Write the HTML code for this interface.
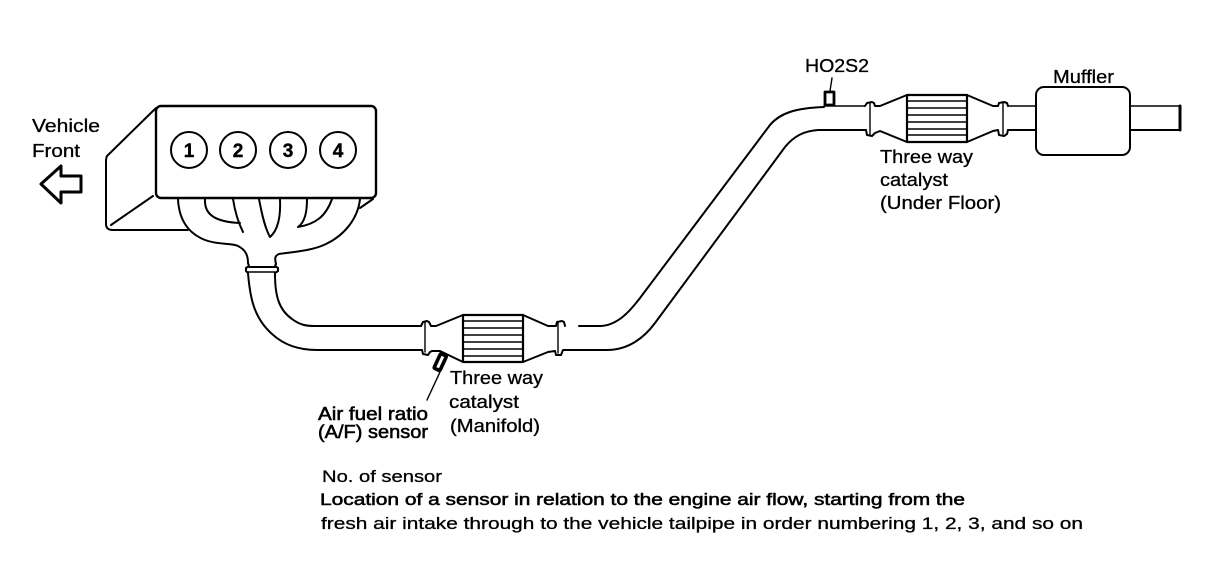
<!DOCTYPE html>
<html>
<head>
<meta charset="utf-8">
<style>
html,body{margin:0;padding:0;background:#fff;width:1216px;height:582px;overflow:hidden}
svg{display:block}
text{font-family:"Liberation Sans",sans-serif;font-size:18px;fill:#000;stroke:#000;stroke-width:.3px}
.b{stroke-width:.55px}
.n{font-size:19px;font-weight:bold;text-anchor:middle;stroke-width:.4px}
.l{fill:none;stroke:#000;stroke-width:2;stroke-linejoin:round;stroke-linecap:round}
.t{stroke-width:1.4}
.h{stroke-width:3}
</style>
</head>
<body>
<svg width="1216" height="582" viewBox="0 0 1216 582" xmlns="http://www.w3.org/2000/svg">
<rect width="1216" height="582" fill="#fff"/>

<!-- engine -->
<path class="l" d="M156 108 L107 156 Q106 158 106 162 L106 224 Q106 230 113 230 L188 230"/>
<path class="l" d="M111 225 L153 196"/>
<rect class="l" x="156" y="106" width="220" height="92" rx="5" ry="5" style="stroke-width:2.4"/>
<circle class="l" cx="189" cy="150" r="18"/>
<circle class="l" cx="238" cy="150" r="18"/>
<circle class="l" cx="288" cy="150" r="18"/>
<circle class="l" cx="338" cy="150" r="18"/>
<text class="n" x="189" y="157">1</text>
<text class="n" x="238" y="157">2</text>
<text class="n" x="288" y="157">3</text>
<text class="n" x="338" y="157">4</text>

<!-- front arrow -->
<path class="l h" d="M41 184 L61 166 L61 176 L81 176 L81 192 L61 192 L61 203 Z"/>

<!-- manifold -->
<path class="l" d="M178 199 C179 222 190 234 205 240 C218 245 232 243 238 246 C246 250 248 256 248 263"/>
<path class="l" d="M360 199 C358 218 345 235 326 244 C312 251 292 252 279 254 C274 256 275 260 276 264"/>
<path class="l" d="M360 208 L373 199"/>
<path class="l" d="M205 199 C204 215 216 222 240 223"/>
<path class="l" d="M233 199 C235 212 238 222 243 232"/>
<path class="l" d="M259 199 C262 215 265 228 270 237 C277 231 281 220 280 199"/>
<path class="l" d="M307 199 C307 212 305 222 298 227 C316 224 326 216 332 199"/>

<!-- first flange -->
<path class="l" d="M248 263 L249 266 L246 268 L246 271 L248 273 M276 264 L275 266 L278 268 L278 271 L275 273"/>
<path class="l" d="M249 267 L275 267"/>
<path class="l t" d="M248 272 L275 272"/>

<!-- front pipe -->
<path class="l" d="M248 273 C250 298 254 318 272 334 C285 346 300 350 317 350 L422 350"/>
<path class="l" d="M275 274 C275 296 279 310 292 319 C300 325 306 326 315 326 L421 326"/>

<!-- manifold catalyst -->
<path class="l" d="M421 326 L423 322 L427 321 L429 322 L431 326 L436 326 L463 315"/>
<path class="l t" d="M425 322 L425 352"/>
<path class="l" d="M422 350 L423 354 L428 355 L430 352 L432 351 L440 351 L463 362"/>
<rect class="l" x="463" y="315" width="60" height="47" style="stroke-width:2.2"/>
<path class="l t" d="M463 321H523M463 328H523M463 335H523M463 342H523M463 349H523M463 356H523"/>
<path class="l" d="M523 315 L548 326 L556 326 L557 322 L562 321 L564 322 L565 326"/>
<path class="l t" d="M558 322 L558 353"/>
<path class="l" d="M523 362 L548 352 L555 351 L556 355 L561 355 L563 350 L607 350"/>

<!-- diagonal pipe -->
<path class="l" d="M579 326 L601 326 C618 325 630 311 640 298 L770 125 C780 113 796 108 824 107"/>
<path class="l" d="M607 350 C628 350 644 338 655 323 L785 147 C794 136 804 131 818 130 L866 130"/>

<!-- underfloor catalyst -->
<path class="l t" d="M824 106 L865 106"/>
<path class="l" d="M865 106 L867 103 L872 102 L874 103 L875 106 L880 106 L907 95"/>
<path class="l t" d="M870 103 L870 135"/>
<path class="l" d="M866 130 L867 135 L872 136 L875 133 L880 131 L907 142"/>
<rect class="l" x="907" y="95" width="60" height="47" style="stroke-width:2.2"/>
<path class="l t" d="M907 101H967M907 108H967M907 115H967M907 122H967M907 129H967M907 135H967"/>
<path class="l" d="M967 95 L993 106 L998 106 L999 103 L1004 102 L1007 103 L1008 106"/>
<path class="l t" d="M1003 103 L1003 134"/>
<path class="l" d="M967 142 L993 131 L998 130 L999 135 L1004 136 L1007 134 L1008 130"/>
<path class="l t" d="M1008 106 L1036 106"/>
<path class="l" d="M1008 130 L1036 130"/>

<!-- muffler -->
<rect class="l" x="1036" y="87" width="94" height="68" rx="8" ry="8"/>
<path class="l t" d="M1130 106 L1180 106"/>
<path class="l" d="M1130 130 L1180 130"/>
<path class="l" d="M1180 106 L1180 130" style="stroke-width:3"/>

<!-- sensors -->
<rect class="l" x="825" y="92" width="9" height="13" style="stroke-width:2.8"/>
<path class="l t" d="M832 78 L830 91"/>
<rect class="l" x="437" y="354" width="6.5" height="16" rx="1" transform="rotate(25 440 362)" style="stroke-width:3.6"/>
<path class="l t" d="M440 372 L427 400"/>

<!-- labels -->
<text x="32" y="132" textLength="68" lengthAdjust="spacingAndGlyphs">Vehicle</text>
<text x="32" y="157" textLength="48" lengthAdjust="spacingAndGlyphs">Front</text>
<text class="b" x="318" y="420" textLength="110" lengthAdjust="spacingAndGlyphs">Air fuel ratio</text>
<text class="b" x="318" y="438" textLength="110" lengthAdjust="spacingAndGlyphs">(A/F) sensor</text>
<text x="450" y="384" textLength="93" lengthAdjust="spacingAndGlyphs">Three way</text>
<text x="449" y="408" textLength="70" lengthAdjust="spacingAndGlyphs">catalyst</text>
<text x="450" y="432" textLength="90" lengthAdjust="spacingAndGlyphs">(Manifold)</text>
<text x="805" y="72" textLength="64" lengthAdjust="spacingAndGlyphs">HO2S2</text>
<text x="1053" y="83" textLength="61" lengthAdjust="spacingAndGlyphs">Muffler</text>
<text x="880" y="163" textLength="93" lengthAdjust="spacingAndGlyphs">Three way</text>
<text x="880" y="186" textLength="68" lengthAdjust="spacingAndGlyphs">catalyst</text>
<text x="880" y="209" textLength="121" lengthAdjust="spacingAndGlyphs">(Under Floor)</text>
<text x="322" y="482" textLength="120" lengthAdjust="spacingAndGlyphs" style="font-size:17px">No. of sensor</text>
<text class="b" x="320" y="505" textLength="645" lengthAdjust="spacingAndGlyphs" style="font-size:17px">Location of a sensor in relation to the engine air flow, starting from the</text>
<text x="321" y="529" textLength="762" lengthAdjust="spacingAndGlyphs" style="font-size:17px">fresh air intake through to the vehicle tailpipe in order numbering 1, 2, 3, and so on</text>
</svg>
</body>
</html>
